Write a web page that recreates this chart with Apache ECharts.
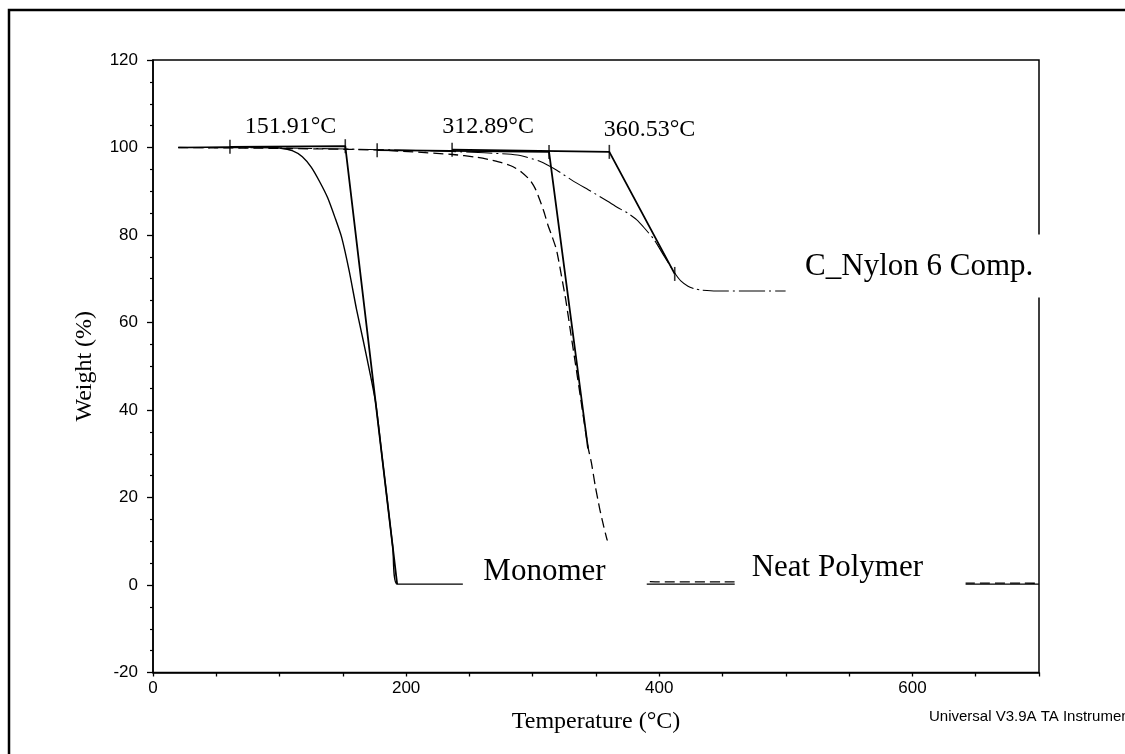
<!DOCTYPE html>
<html>
<head>
<meta charset="utf-8">
<script src="https://cdn.jsdelivr.net/npm/echarts@6/dist/echarts.min.js"></script>
<style>
  html, body { margin: 0; padding: 0; background: #fff; }
  #chart { width: 1125px; height: 754px; }
</style>
</head>
<body>
<div id="chart"></div>
<script>
// TGA thermograms: weight (%) against temperature (°C)

// Extrapolated onset temperatures
const onsetTemps = [151.91, 312.89, 360.53];

// Monomer (solid)
const monomerTemp   = [20, 60, 90, 100, 110, 118, 125, 132, 138, 144, 149, 155, 160.8, 166, 171.4, 176, 181, 186, 189.5, 192.9, 250, 400, 550, 700];
const monomerWeight = [100, 100.1, 100.1, 99.9, 99.3, 97.9, 95.5, 92.0, 88.5, 83.8, 79.5, 71.8, 63.0, 56.0, 48.5, 41.5, 29.3, 17.1, 8.5, 0.2, 0.2, 0.2, 0.2, 0.2];

// Neat polymer (dashed)
const neatTemp   = [20, 100, 180, 236.9, 255, 266.1, 276, 284.5, 291, 297.7, 302, 305.6, 309, 312, 315.5, 318.8, 322.5, 326.1, 330, 334, 338, 343.7, 346.4, 349.5, 353, 356, 358.7, 365, 373, 385, 400, 450, 550, 700];
const neatWeight = [100, 99.8, 99.4, 98.4, 97.8, 97.2, 96.5, 95.6, 94.4, 92.6, 90.6, 88.0, 85.2, 82.3, 79.5, 76.6, 71.0, 65.2, 57.7, 50.1, 42.4, 31.5, 27.9, 22.5, 17.3, 13.5, 10.4, 4.5, 1.8, 0.9, 0.7, 0.7, 0.5, 0.4];

// C_Nylon 6 composite (dash-dot)
const compTemp   = [20, 100, 180, 236, 287.7, 306, 319, 332.7, 346, 359.2, 367, 375, 382, 388.2, 396, 404, 412.2, 417, 422.7, 428, 433.2, 445, 500, 600, 700];
const compWeight = [100, 99.9, 99.5, 99.1, 98.3, 96.8, 94.8, 92.2, 90.0, 87.7, 86.3, 85.0, 83.5, 81.6, 78.9, 75.1, 71.3, 69.5, 68.3, 67.7, 67.4, 67.2, 67.2, 67.2, 67.2];

// Onset constructions: baseline then tangent
const monomerFitTemp   = [60.8, onsetTemps[0], 192.9];
const monomerFitWeight = [100.15, 100.3, 0.2];
const neatFitTemp      = [177.1, onsetTemps[1], 343.7];
const neatFitWeight    = [99.4, 99.0, 31.2];
const compFitTemp      = [236.3, onsetTemps[2], 412.2];
const compFitWeight    = [99.5, 99.0, 71.1];

// Analysis range markers
const markerTemp   = [60.8, onsetTemps[0], 177.1, 236.3, onsetTemps[1], onsetTemps[2], 412.2];
const markerWeight = [100.15, 100.3, 99.4, 99.5, 99.0, 99.0, 71.1];

// Axis tick labels
const xTickLabels = [0, 200, 400, 600];
const yTickLabels = [-20, 0, 20, 40, 60, 80, 100, 120];

const pairs = (xs, ys) => xs.map((x, i) => [x, ys[i]]);
const serif = '"Liberation Serif", "Times New Roman", serif';
const sans = '"Liberation Sans", Arial, sans-serif';
const fmtOnset = t => t.toFixed(2) + '°C';

const chart = echarts.init(document.getElementById('chart'), null, { renderer: 'canvas' });

const lineSeries = (data, lineStyle, z) => ({
  type: 'line', data, showSymbol: false, symbol: 'none', smooth: 0.2,
  lineStyle: Object.assign({ color: '#000' }, lineStyle), z: z || 2, silent: true
});

chart.setOption({
  animation: false,
  backgroundColor: '#fff',
  grid: {
    left: 153, right: 86, top: 60, bottom: 81.5,
    show: true, borderColor: '#000', borderWidth: 1.5,
    containLabel: false, outerBoundsMode: 'none'
  },
  xAxis: {
    type: 'value', min: 0, max: 700, interval: 50,
    name: 'Temperature (°C)', nameLocation: 'middle', nameGap: 37,
    nameTextStyle: { fontFamily: serif, fontSize: 24, color: '#000' },
    axisLine: { show: true, onZero: false, lineStyle: { color: '#000', width: 1.5 } },
    axisTick: { show: true, length: 4, lineStyle: { color: '#000', width: 1.3 } },
    axisLabel: {
      interval: 0, margin: 7, fontFamily: sans, fontSize: 17, color: '#000',
      formatter: v => xTickLabels.includes(v) ? String(v) : ''
    },
    splitLine: { show: false }
  },
  yAxis: {
    type: 'value', min: -20, max: 120, interval: 20,
    name: 'Weight (%)', nameLocation: 'middle', nameGap: 56, nameRotate: 90,
    nameTextStyle: { fontFamily: serif, fontSize: 24, color: '#000' },
    axisLine: { show: true, onZero: false, lineStyle: { color: '#000', width: 1.5 } },
    axisTick: { show: true, length: 6, lineStyle: { color: '#000', width: 1.3 } },
    minorTick: { show: true, splitNumber: 4, length: 3, lineStyle: { color: '#000', width: 1.2 } },
    axisLabel: {
      margin: 15, fontFamily: sans, fontSize: 17, color: '#000',
      formatter: v => yTickLabels.includes(v) ? String(v) : ''
    },
    splitLine: { show: false },
    minorSplitLine: { show: false }
  },
  series: [
    lineSeries(pairs(monomerTemp, monomerWeight), { width: 1.4 }),
    lineSeries(pairs(neatTemp, neatWeight), { width: 1.3, type: [10, 5] }),
    lineSeries(pairs(compTemp, compWeight), { width: 1.1, type: [26, 4, 2, 4] }),
    Object.assign(lineSeries(pairs(monomerFitTemp, monomerFitWeight), { width: 1.8 }, 3), { smooth: false }),
    Object.assign(lineSeries(pairs(neatFitTemp, neatFitWeight), { width: 1.8 }, 3), { smooth: false }),
    Object.assign(lineSeries(pairs(compFitTemp, compFitWeight), { width: 1.8 }, 3), { smooth: false }),
    {
      type: 'scatter', data: pairs(markerTemp, markerWeight),
      symbol: 'rect', symbolSize: [1.6, 14],
      itemStyle: { color: '#000' }, z: 4, silent: true
    }
  ]
});

// Text annotations placed in data space
const px = (t, w) => chart.convertToPixel({ xAxisIndex: 0, yAxisIndex: 0 }, [t, w]);

const onsetNotes = [
  { text: fmtOnset(onsetTemps[0]), at: [108.6, 104.8] },
  { text: fmtOnset(onsetTemps[1]), at: [264.8, 104.8] },
  { text: fmtOnset(onsetTemps[2]), at: [392.3, 104.1] }
];

const boxedNotes = [
  { text: 'Monomer',         box: [244.8, 10.2, 390.1, -3.3], at: [261.0, 3.1] },
  { text: 'Neat Polymer',    box: [459.6, 10.2, 642.0, -3.3], at: [473.0, 4.0] },
  { text: 'C_Nylon 6 Comp.', box: [499.8, 80.1, 720.0, 65.7], at: [515.2, 72.8] }
];

const graphics = [];

onsetNotes.forEach(n => {
  const p = px(n.at[0], n.at[1]);
  graphics.push({
    type: 'text', x: p[0], y: p[1], z: 60,
    style: { text: n.text, fontFamily: serif, fontSize: 24, fill: '#000', align: 'center', verticalAlign: 'middle' }
  });
});

boxedNotes.forEach(n => {
  const a = px(n.box[0], n.box[1]);
  const b = px(n.box[2], n.box[3]);
  graphics.push({
    type: 'rect', z: 50,
    shape: { x: a[0], y: a[1], width: b[0] - a[0], height: b[1] - a[1] },
    style: { fill: '#fff', stroke: null }
  });
  const p = px(n.at[0], n.at[1]);
  graphics.push({
    type: 'text', x: p[0], y: p[1], z: 60,
    style: { text: n.text, fontFamily: serif, fontSize: 31, fill: '#000', align: 'left', verticalAlign: 'middle' }
  });
});

// Instrument software credit
graphics.push({
  type: 'text', x: 929, y: 717, z: 60,
  style: { text: 'Universal V3.9A TA Instruments', fontFamily: sans, fontSize: 15, fill: '#000', align: 'left', verticalAlign: 'middle' }
});

// Page frame
graphics.push({
  type: 'rect', z: 70,
  shape: { x: 9, y: 10, width: 1300, height: 900 },
  style: { fill: 'none', stroke: '#000', lineWidth: 2.5 }
});

chart.setOption({ graphic: graphics });
</script>
</body>
</html>
